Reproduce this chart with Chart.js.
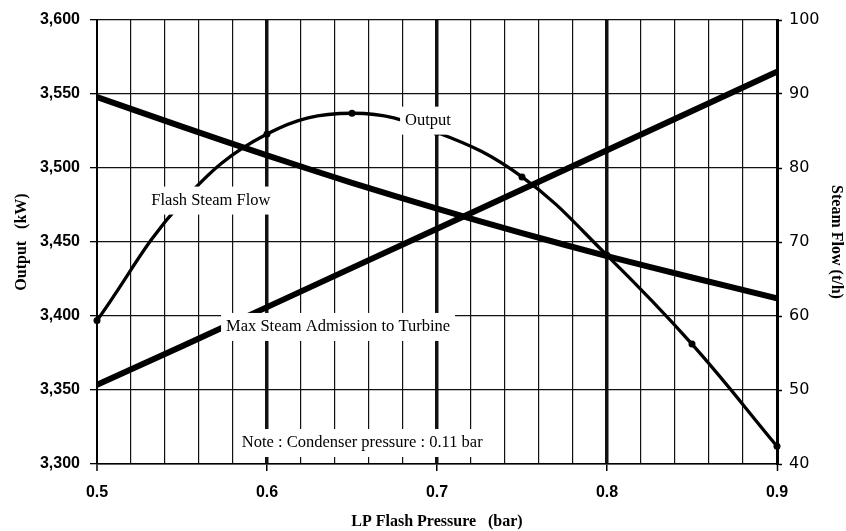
<!DOCTYPE html>
<html>
<head>
<meta charset="utf-8">
<script src="https://cdn.jsdelivr.net/npm/chart.js@4"></script>
<style>
  body { margin: 0; background: #fff; }
  #wrap { width: 846px; height: 531px; }
</style>
</head>
<body>
<div id="wrap"><canvas id="flashChart"></canvas></div>
<script>
// values
var pressure = [0.5, 0.55, 0.6, 0.65, 0.7, 0.75, 0.8, 0.85, 0.9];
var outputKW = [3397, 3477, 3523, 3537, 3524, 3494, 3441, 3381, 3312];
var flashFlow = [89.6, 85.6, 81.7, 78.0, 74.5, 71.2, 68.1, 65.2, 62.4];
var maxAdmission = [50.7, 55.9, 61.2, 66.5, 71.8, 77.1, 82.4, 87.7, 93.0];

var noteTexts = ["Output", "Flash Steam Flow", "Max Steam Admission to Turbine", "Note : Condenser pressure : 0.11 bar"];
var noteX = [0.6947, 0.567, 0.6418, 0.656];
var noteY = [3532, 3478, 3392.6, 3314.2];

function pairs(xs, ys) {
  return xs.map(function (v, i) { return { x: v, y: ys[i] }; });
}

function hundredths(v) { return Math.round(v * 100); }

// white boxed text drawn over the grid and the curves
var notesPlugin = {
  id: 'notes',
  afterDatasetsDraw: function (chart) {
    var ctx = chart.ctx, xs = chart.scales.x, ys = chart.scales.y;
    ctx.save();
    ctx.font = '16.5px "Liberation Serif"';
    ctx.textAlign = 'center';
    ctx.textBaseline = 'middle';
    for (var i = 0; i < noteTexts.length; i++) {
      var px = xs.getPixelForValue(noteX[i]);
      var py = ys.getPixelForValue(noteY[i]);
      var w = ctx.measureText(noteTexts[i]).width;
      ctx.fillStyle = '#fff';
      ctx.fillRect(px - w / 2 - 5, py - 14, w + 10, 28);
      ctx.fillStyle = '#000';
      ctx.fillText(noteTexts[i], px, py);
    }
    ctx.restore();
  }
};

var titleFont = { family: '"Liberation Serif"', size: 16, weight: 'bold' };

new Chart(document.getElementById('flashChart'), {
  type: 'line',
  data: {
    datasets: [
      {
        label: 'Output',
        data: pairs(pressure, outputKW),
        yAxisID: 'y',
        borderColor: '#000',
        backgroundColor: '#000',
        borderWidth: 3.3,
        tension: 0.4,
        pointRadius: 3.5,
        pointBorderWidth: 0,
        clip: 8
      },
      {
        label: 'Flash Steam Flow',
        data: pairs(pressure, flashFlow),
        yAxisID: 'y1',
        borderColor: '#000',
        borderWidth: 6,
        tension: 0.3,
        pointRadius: 0
      },
      {
        label: 'Max Steam Admission to Turbine',
        data: pairs(pressure, maxAdmission),
        yAxisID: 'y1',
        borderColor: '#000',
        borderWidth: 6,
        tension: 0,
        pointRadius: 0
      }
    ]
  },
  options: {
    responsive: true,
    maintainAspectRatio: false,
    animation: false,
    layout: { padding: { top: 20, left: 0, right: 0, bottom: 0 } },
    plugins: { legend: { display: false }, tooltip: { enabled: false } },
    scales: {
      x: {
        type: 'linear',
        min: 0.5,
        max: 0.9,
        afterFit: function (s) { s.height = 67; },
        ticks: {
          stepSize: 0.02,
          autoSkip: false,
          maxRotation: 0,
          padding: 12,
          color: '#000',
          font: { family: '"Liberation Sans"', size: 16, weight: 'bold' },
          callback: function (v) {
            var h = hundredths(v);
            return h % 10 === 0 ? (h / 100).toFixed(1) : '';
          }
        },
        grid: {
          color: '#111',
          lineWidth: function (c) {
            var h = hundredths(c.tick.value);
            if (h === 60 || h === 70 || h === 80) return 3.5;
            if (h === 90) return 3;
            if (h === 50) return 2;
            return 1.2;
          },
          tickLength: 7,
          tickWidth: 1.5,
          tickColor: function (c) {
            return hundredths(c.tick.value) % 10 === 0 ? '#000' : 'rgba(0,0,0,0)';
          }
        },
        border: { display: true, color: '#000', width: 1.5 },
        title: {
          display: true,
          text: 'LP Flash Pressure   (bar)',
          color: '#000',
          font: titleFont,
          padding: { top: 0, bottom: 0 }
        }
      },
      y: {
        position: 'left',
        min: 3300,
        max: 3600,
        afterFit: function (s) { s.width = 97; },
        ticks: {
          stepSize: 50,
          padding: 10,
          color: '#000',
          font: { family: '"Liberation Sans"', size: 16, weight: 'bold' },
          callback: function (v) { return v.toLocaleString('en-US'); }
        },
        grid: { color: '#111', lineWidth: 1.3, tickLength: 7, tickColor: '#000' },
        border: { display: true, color: '#000', width: 2 },
        title: {
          display: true,
          text: 'Output   (kW)',
          color: '#000',
          font: titleFont,
          padding: { top: 12, bottom: 0 }
        }
      },
      y1: {
        position: 'right',
        min: 40,
        max: 100,
        afterFit: function (s) { s.width = 69; },
        ticks: {
          stepSize: 10,
          padding: 7,
          color: '#000',
          font: { family: '"DejaVu Sans"', size: 16 }
        },
        grid: { drawOnChartArea: false, tickLength: 5, tickColor: '#000', tickWidth: 1.5 },
        border: { display: true, color: '#000', width: 3 },
        title: {
          display: true,
          text: 'Steam Flow (t/h)',
          color: '#000',
          font: titleFont,
          padding: { top: 0, bottom: 0 }
        }
      }
    }
  },
  plugins: [notesPlugin]
});
</script>
</body>
</html>
